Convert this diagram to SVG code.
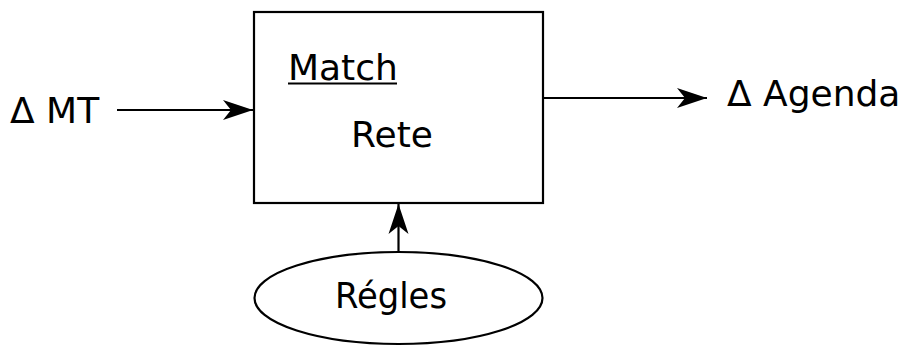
<svg xmlns="http://www.w3.org/2000/svg" width="905" height="346" viewBox="0 0 905 346">
<style>
text{font-family:"DejaVu Sans","Open Sans",sans-serif;font-size:36px;fill:#000}
.s{fill:none;stroke:#000;stroke-width:2.2}
</style>
<defs>
<marker id="ah" markerUnits="userSpaceOnUse" markerWidth="32" markerHeight="22" refX="30" refY="11" orient="auto">
<path d="M0,1 L30,11 L0,21 L8,11 Z" fill="#000"/>
</marker>
</defs>
<rect width="905" height="346" fill="#fff"/>
<g id="match">
<rect class="s" x="254" y="12" width="289" height="191"/>
<text x="288" y="80">Match</text>
<line x1="288" y1="83.5" x2="397" y2="83.5" stroke="#000" stroke-width="2"/>
<text x="392" y="147" text-anchor="middle">Rete</text>
</g>
<g id="mt"><text x="10" y="123">Δ MT</text></g>
<g id="agenda"><text x="727" y="106">Δ Agenda</text></g>
<g id="regles">
<ellipse class="s" cx="398.5" cy="298" rx="144" ry="46"/>
<text x="391" y="308" text-anchor="middle" textLength="112" lengthAdjust="spacingAndGlyphs">Régles</text>
</g>
<g id="connectors">
<line class="s" x1="117" y1="110" x2="253" y2="110" marker-end="url(#ah)"/>
<line class="s" x1="544" y1="98" x2="707" y2="98" marker-end="url(#ah)"/>
<line class="s" x1="398.5" y1="252" x2="398.5" y2="204" marker-end="url(#ah)"/>
</g>
</svg>
